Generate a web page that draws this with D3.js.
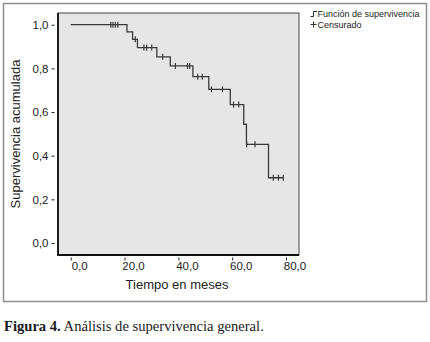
<!DOCTYPE html>
<html>
<head>
<meta charset="utf-8">
<script src="https://cdn.jsdelivr.net/npm/d3@7"></script>
<style>
  body { margin: 0; background: #fff; }
  svg { display: block; }
</style>
</head>
<body>
<svg id="chart" width="430" height="342"></svg>
<script>
// Kaplan-Meier steps
const stepTimes = [0, 20.9, 23.0, 24.8, 32.0, 37.0, 45.4, 51.3, 59.3, 64.3, 65.3, 73.5];
const stepSurv  = [1.0, 0.967, 0.933, 0.895, 0.853, 0.811, 0.762, 0.704, 0.634, 0.544, 0.452, 0.299];
const lastTime = 79.0;
const censorTimes = [14.95, 15.7, 16.6, 17.5, 24.0, 27.2, 28.2, 30.1, 34.2, 38.9, 43.4, 44.2,
                     47.2, 48.9, 52.3, 56.4, 60.5, 62.4, 65.4, 68.5, 75.3, 77.2, 79.0];
const xTicks = [0, 20, 40, 60, 80];
const yTicks = [0, 0.2, 0.4, 0.6, 0.8, 1.0];

const svg = d3.select('#chart');
const fmt = d => d3.format('.1f')(d).replace('.', ',');

// outer frame
svg.append('rect')
    .attr('x', 3.5).attr('y', 3.5)
    .attr('width', 423).attr('height', 298)
    .attr('fill', 'none')
    .attr('stroke', '#8f8f8f')
    .attr('stroke-width', 1.5);

// plot box
const box = {left: 58, right: 299, top: 13, bottom: 255};

let x = d3.scaleLinear().domain([0, 80]).range([70.7, 286]);
let y = d3.scaleLinear().domain([0, 1]).range([243, 24.7]);

svg.append('rect')
    .attr('x', box.left).attr('y', box.top)
    .attr('width', box.right - box.left).attr('height', box.bottom - box.top)
    .attr('fill', '#e6e6e6')
    .attr('stroke', '#444')
    .attr('stroke-width', 1);
svg.append('path')
    .attr('d', `M${box.left},${box.top}V${box.bottom}H${box.right}`)
    .attr('fill', 'none')
    .attr('stroke', '#111')
    .attr('stroke-width', 1.8);

// axes, offset from the box like SPSS
let yAxis = d3.axisLeft(y).tickValues(yTicks).tickSize(3).tickPadding(3).tickFormat(fmt);
let gy = svg.append('g').attr('transform', 'translate(54.5,0)').call(yAxis);
gy.select('.domain').remove();

let xAxis = d3.axisBottom(x).tickValues(xTicks).tickSize(3).tickPadding(1).tickFormat(fmt);
let gx = svg.append('g').attr('transform', 'translate(0,257.5)').call(xAxis);
gx.select('.domain').remove();
gx.selectAll('text').attr('dx', 8.5);

svg.selectAll('.tick line').attr('stroke', '#222');
svg.selectAll('.tick text')
    .attr('font-family', 'Liberation Sans, Arial, sans-serif')
    .attr('font-size', 11.5)
    .attr('fill', '#222');

// survival curve
let pts = stepTimes.map((t, i) => [t, stepSurv[i]]);
pts.push([lastTime, stepSurv[stepSurv.length - 1]]);
let line = d3.line()
    .x(d => x(d[0]))
    .y(d => y(d[1]))
    .curve(d3.curveStepAfter);
svg.append('path')
    .datum(pts)
    .attr('d', line)
    .attr('fill', 'none')
    .attr('stroke', '#3a3a3a')
    .attr('stroke-width', 1.3);

// censored marks
let survAt = t => stepSurv[d3.bisectRight(stepTimes, t) - 1];
svg.selectAll('.cens')
    .data(censorTimes)
    .enter()
    .append('line')
    .attr('class', 'cens')
    .attr('x1', d => x(d)).attr('x2', d => x(d))
    .attr('y1', d => y(survAt(d)) - 3)
    .attr('y2', d => y(survAt(d)) + 3)
    .attr('stroke', '#3a3a3a')
    .attr('stroke-width', 1.2);

// axis titles
svg.append('text')
    .attr('x', 177).attr('y', 289)
    .attr('text-anchor', 'middle')
    .attr('font-family', 'Liberation Sans, Arial, sans-serif')
    .attr('font-size', 13)
    .attr('fill', '#222')
    .text('Tiempo en meses');
svg.append('text')
    .attr('transform', 'translate(20,134) rotate(-90)')
    .attr('text-anchor', 'middle')
    .attr('font-family', 'Liberation Sans, Arial, sans-serif')
    .attr('font-size', 13)
    .attr('fill', '#222')
    .text('Supervivencia acumulada');

// legend
let lg = svg.append('g').attr('font-family', 'Liberation Sans, Arial, sans-serif').attr('font-size', 9).attr('fill', '#222');
lg.append('path')
    .attr('d', 'M310.5,16.5H313.5V11.5H317')
    .attr('fill', 'none').attr('stroke', '#333').attr('stroke-width', 1);
lg.append('text').attr('x', 317.5).attr('y', 16.5).text('Función de supervivencia');
lg.append('path')
    .attr('d', 'M310.5,24.5H316.5M313.5,21.5V27.5')
    .attr('fill', 'none').attr('stroke', '#333').attr('stroke-width', 1);
lg.append('text').attr('x', 317.5).attr('y', 28).text('Censurado');

// caption
let cap = svg.append('text')
    .attr('x', 4).attr('y', 331)
    .attr('font-family', 'Liberation Serif, Times New Roman, serif')
    .attr('font-size', 14.6)
    .attr('fill', '#1a1a1a');
cap.append('tspan').attr('font-weight', 'bold').text('Figura 4.');
cap.append('tspan').text(' Análisis de supervivencia general.');
</script>
</body>
</html>
